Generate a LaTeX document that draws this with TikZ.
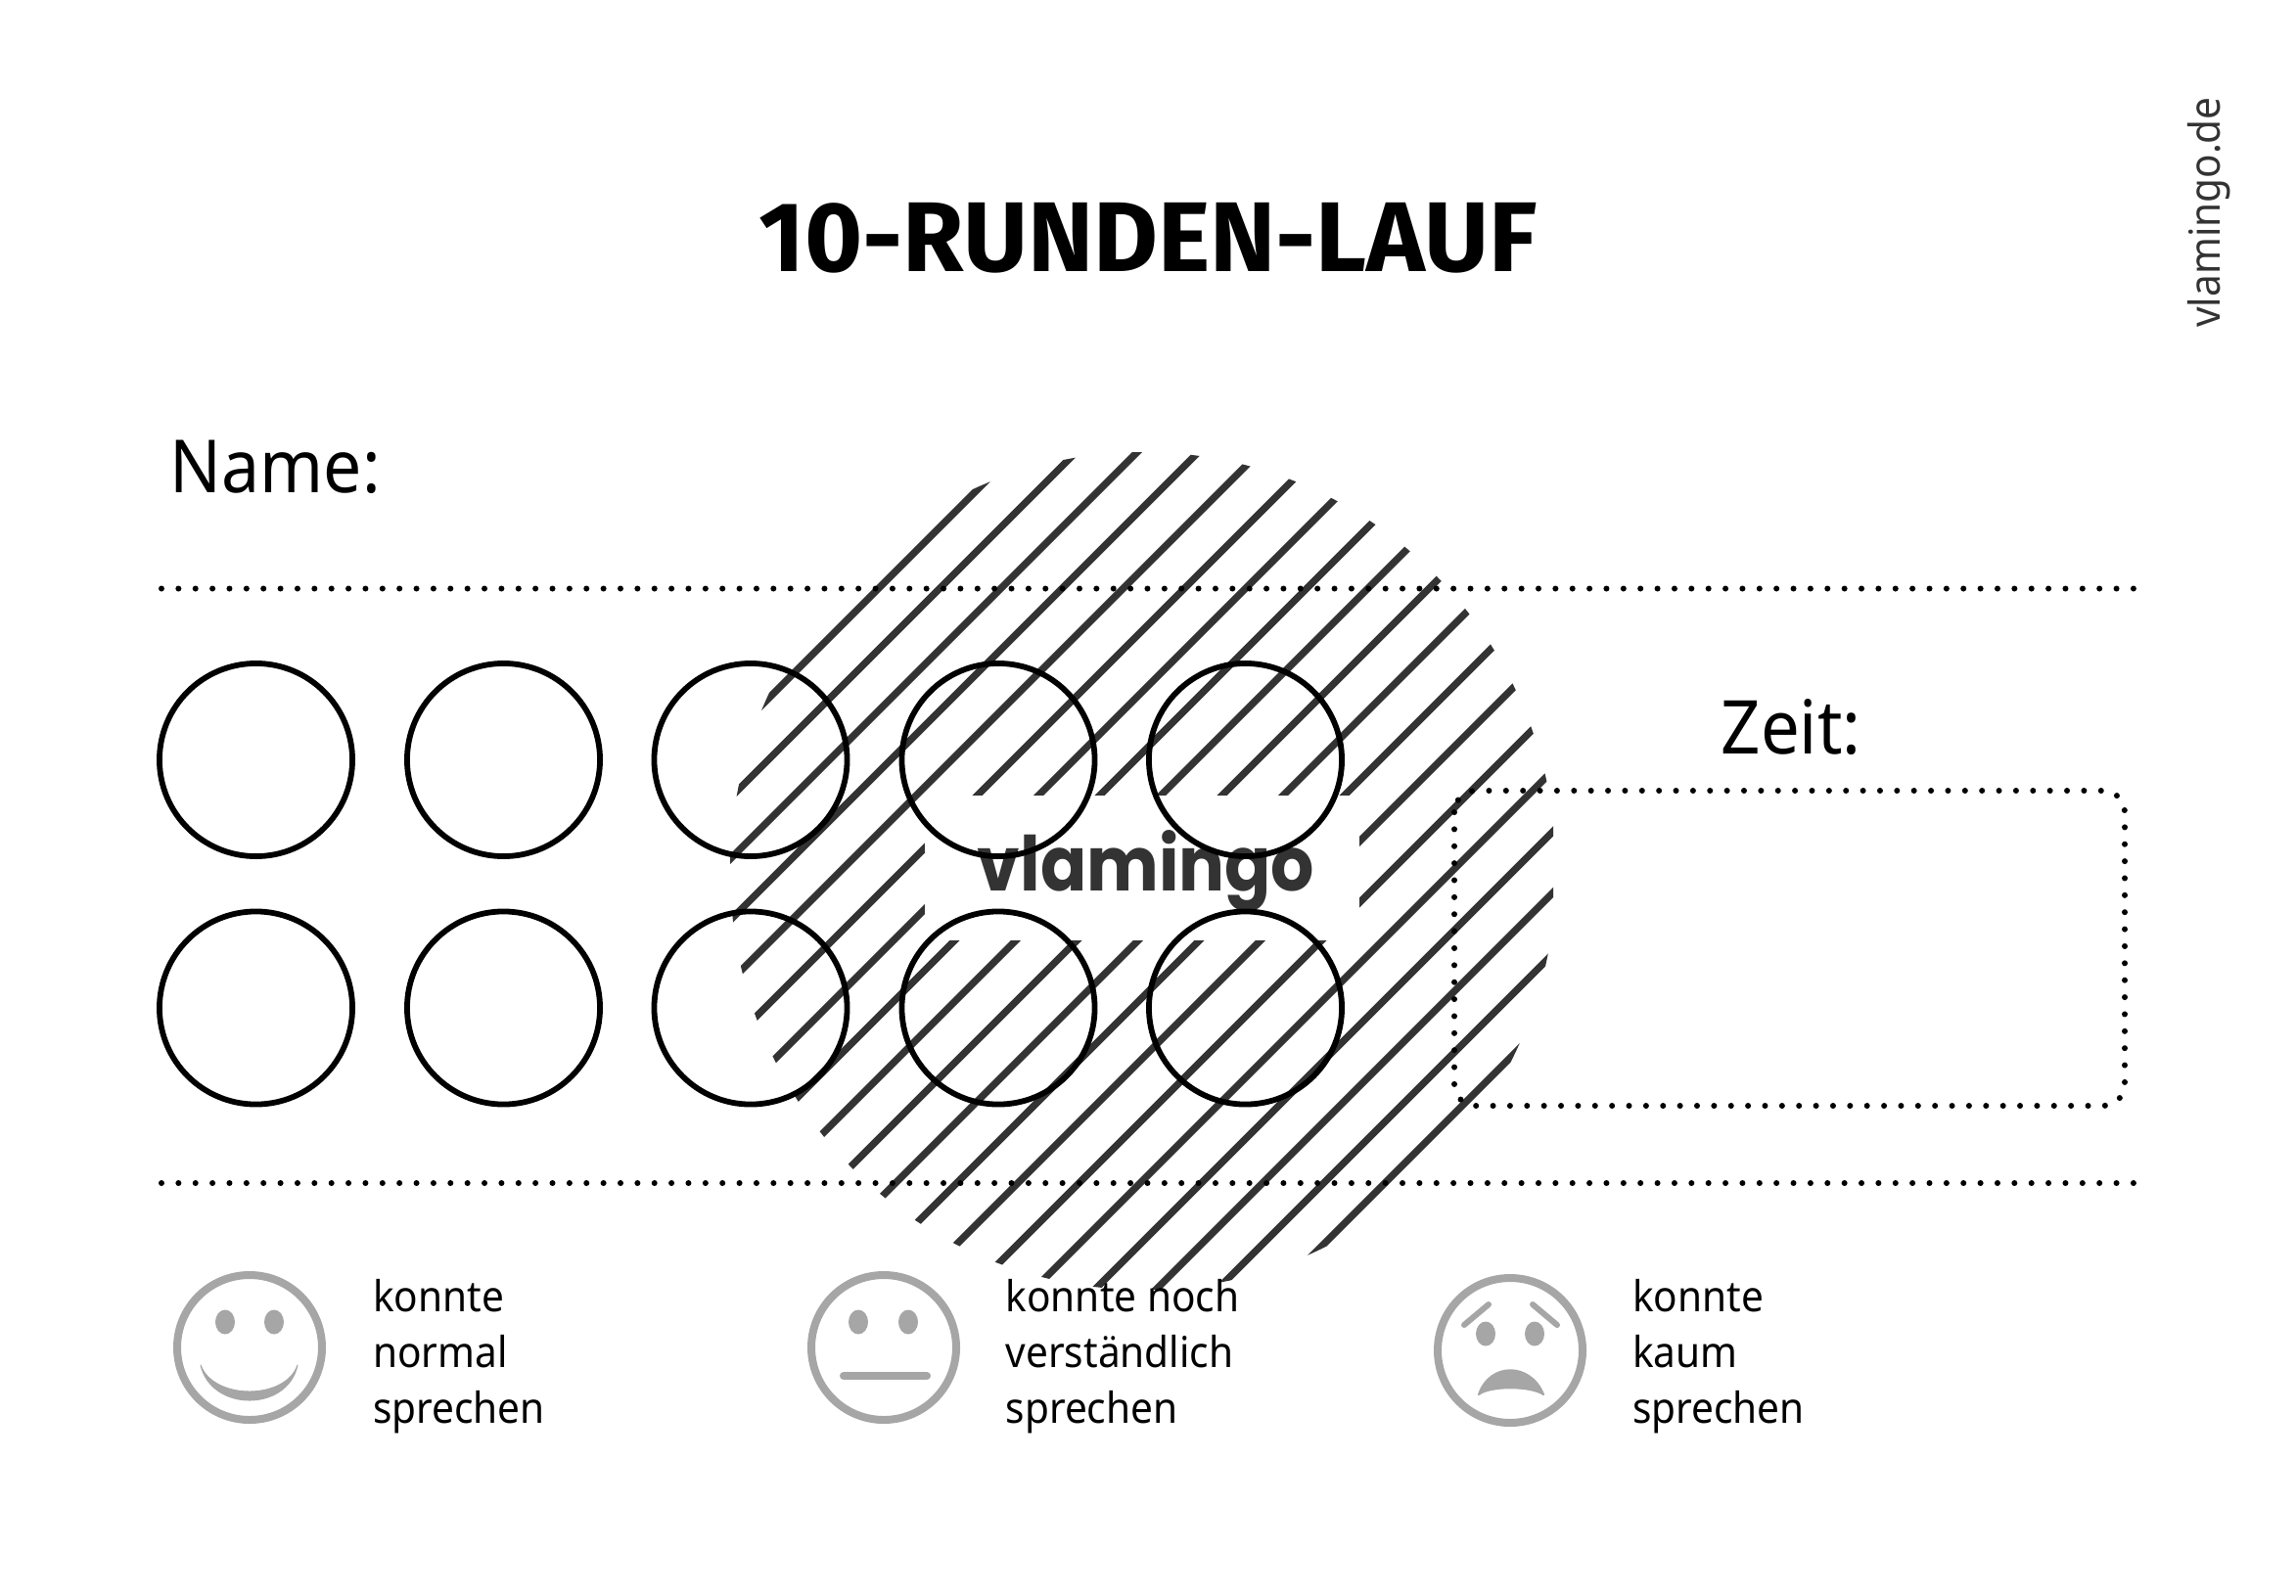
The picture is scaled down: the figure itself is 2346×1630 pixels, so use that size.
\documentclass[tikz,border=0pt]{standalone}
\usepackage{fontspec}
\setmainfont[FakeStretch=0.93]{Noto Sans}
\newfontfamily\titlefont{Fira Sans}
\newfontfamily\logofont[FakeStretch=0.9]{Poppins}
\definecolor{hatchgrey}{HTML}{333333}
\definecolor{facegrey}{HTML}{A6A6A6}
\tikzset{
    round10/.style={draw=black,line width=0.058cm,circle,minimum size=1.97cm,inner sep=0pt},
    dotline/.style={line width=0.06cm,line cap=round,dash pattern=on 0pt off 0.1736cm},
    face/.style={draw=facegrey,line width=0.08cm},
    legend/.style={anchor=north west,inner sep=0pt,align=left,font=\fontsize{12.4}{16.2}\selectfont}
}
\begin{document}
\begin{tikzpicture}[x=0.01cm,y=-0.01cm]
                \useasboundingbox (0,0) rectangle (2346,1630);
                % hatched disc behind everything
                \begin{scope}
                    \clip (0,0) rectangle (1587,1630);
                    \clip (1168,890) ellipse [x radius=422,y radius=428];
                    \foreach \k in {0,...,18}
                        \draw[hatchgrey,line width=0.072cm] ({1499+62.5*\k-1500},1500) -- ({1499+62.5*\k},0);
                \end{scope}
                \fill[white] (945,813) rectangle (1389,961);
                % title and labels
                \node[inner sep=0pt,font=\fontsize{28.8}{32}\selectfont\titlefont\bfseries] (title) at (1173,243) {10-RUNDEN-LAUF};
                \node[anchor=base west,inner sep=0pt,font=\fontsize{21.3}{24}\selectfont] (name) at (173,503) {Name:};
                \node[anchor=base west,inner sep=0pt,font=\fontsize{21.6}{24}\selectfont] (zeit) at (1758,770) {Zeit:};
                \node[rotate=90,anchor=base,inner sep=0pt,hatchgrey,font=\fontsize{12.4}{14}\selectfont] (site) at (2268,217) {vlamingo.de};
                \node[anchor=base,inner sep=0pt,hatchgrey,font=\fontsize{22}{24}\selectfont\logofont\bfseries] (logo) at (1171,910) {vlamingo};
                % dotted rules and time box
                \draw[dotline] (165,601.5) -- (2197,601.5);
                \draw[dotline] (165,1209) -- (2197,1209);
                \draw[dotline,rounded corners=0.22cm] (1486,808) rectangle (2171,1130);
                % one circle per lap
                \foreach \col/\x in {a/261.5,b/514.5,c/767,d/1020,e/1272.5}
                    \foreach \row/\y in {1/776.5,2/1030}
                        \node[round10] (lap\col\row) at (\x,\y) {};
                % happy face
                \draw[face] (255,1377) circle (74);
                \fill[facegrey] (230,1351) ellipse [x radius=10,y radius=12.5];
                \fill[facegrey] (280,1351) ellipse [x radius=10,y radius=12.5];
                \fill[facegrey,draw=facegrey,line width=0.01cm,line join=round] (205,1395) .. controls (216,1443) and (294,1443) .. (304,1395) .. controls (292,1431) and (218,1431) .. cycle;
                \node[legend] (textnormal) at (380.5,1306.5) {konnte\\normal\\sprechen};
                % neutral face
                \draw[face] (903,1377) circle (74);
                \fill[facegrey] (877,1351) ellipse [x radius=10,y radius=12.5];
                \fill[facegrey] (928,1351) ellipse [x radius=10,y radius=12.5];
                \draw[face,line cap=round] (862,1406) -- (947,1406);
                \node[legend] (textnoch) at (1027,1306.5) {konnte noch\\verständlich\\sprechen};
                % sad face
                \draw[face] (1543,1380) circle (74);
                \fill[facegrey] (1518,1363) ellipse [x radius=10,y radius=12.5];
                \fill[facegrey] (1568,1363) ellipse [x radius=10,y radius=12.5];
                \draw[face,line width=0.06cm,line cap=round] (1496,1354) -- (1521,1333);
                \draw[face,line width=0.06cm,line cap=round] (1566,1333) -- (1591,1354);
                \fill[facegrey,draw=facegrey,line width=0.02cm,line join=round] (1511,1425) .. controls (1522,1392) and (1564,1392) .. (1577,1425) .. controls (1564,1416) and (1522,1416) .. cycle;
                \node[legend] (textkaum) at (1667.5,1306.5) {konnte\\kaum\\sprechen};
            \end{tikzpicture}
\end{document}
